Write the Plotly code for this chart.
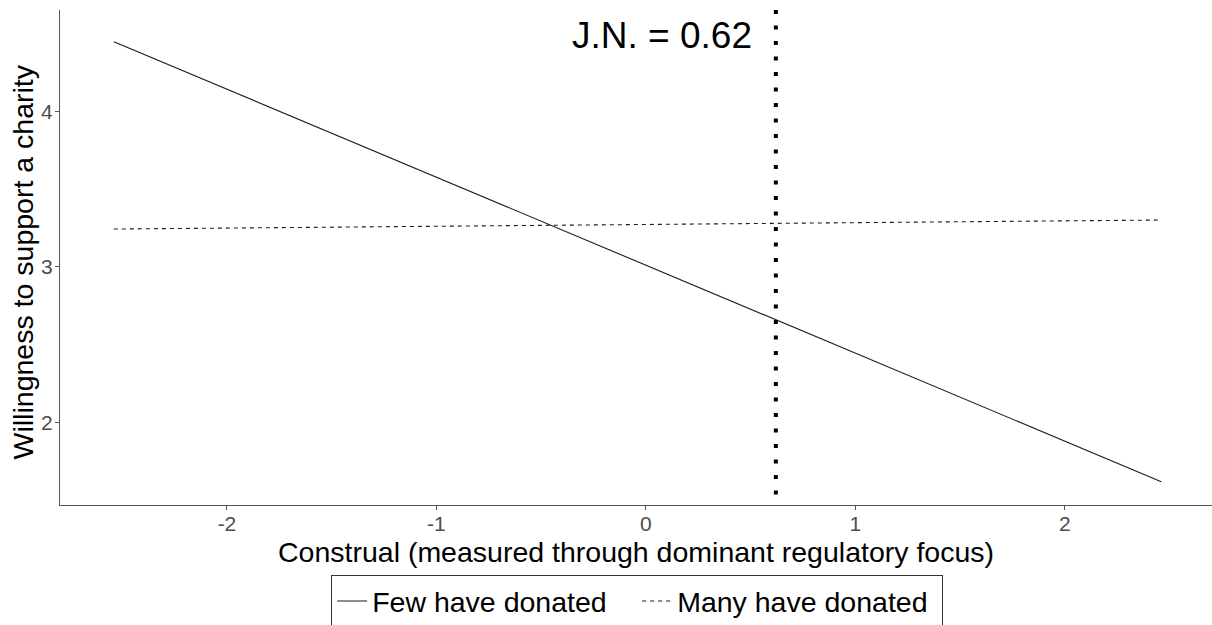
import plotly.graph_objects as go

# Data
x_vals = [-2.54, 2.46]
few_vals = [4.449, 1.619]
many_vals = [3.244, 3.302]
series_names = ["Few have donated", "Many have donated"]
jn_value = 0.62
jn_label = "J.N. = 0.62"
x_ticks = [-2, -1, 0, 1, 2]
x_tick_labels = ["-2", "-1", "0", "1", "2"]
y_ticks = [2, 3, 4]
y_tick_labels = ["2", "3", "4"]
x_title = "Construal (measured through dominant regulatory focus)"
y_title = "Willingness to support a charity"

FONT = "Liberation Sans, Arial, sans-serif"

fig = go.Figure()
fig.add_trace(go.Scatter(
    x=x_vals, y=few_vals, mode="lines", name=series_names[0],
    line=dict(color="#1a1a1a", width=1.1, dash="solid"),
))
fig.add_trace(go.Scatter(
    x=x_vals, y=many_vals, mode="lines", name=series_names[1],
    line=dict(color="#1a1a1a", width=1.1, dash="4px,4px"),
))

fig.add_shape(
    type="line", xref="x", yref="paper",
    x0=jn_value, x1=jn_value, y0=1, y1=0,
    line=dict(color="black", width=4, dash="4px,11.5px"),
)

fig.add_annotation(
    x=jn_value, y=4.49, xref="x", yref="y",
    text=jn_label, showarrow=False,
    xanchor="right", yanchor="middle", xshift=-22,
    font=dict(family=FONT, size=37, color="black"),
)

# axis titles placed as annotations beside the axes
fig.add_annotation(
    x=0, y=0.49, xref="paper", yref="paper",
    text=y_title, showarrow=False, textangle=-90,
    xanchor="center", yanchor="middle", xshift=-37,
    font=dict(family=FONT, size=28.5, color="black"),
)
fig.add_annotation(
    x=0.5, y=0, xref="paper", yref="paper",
    text=x_title, showarrow=False,
    xanchor="center", yanchor="middle", yshift=-47,
    font=dict(family=FONT, size=28.5, color="black"),
)

axis_common = dict(
    showline=True, linecolor="#555555", linewidth=1.3,
    ticks="outside", tickcolor="#555555", ticklen=4, tickwidth=1,
    showgrid=False, zeroline=False, mirror=False,
    tickfont=dict(family=FONT, size=21, color="#4d4d4d"),
)

fig.update_layout(
    width=1212, height=625,
    margin=dict(l=60, r=0, t=10, b=120, autoexpand=False),
    paper_bgcolor="white", plot_bgcolor="white",
    xaxis=dict(
        range=[-2.797, 2.702], tickvals=x_ticks, ticktext=x_tick_labels,
        ticklabelstandoff=-4,
        **axis_common,
    ),
    yaxis=dict(
        range=[1.469, 4.653], tickvals=y_ticks, ticktext=y_tick_labels,
        ticklabelstandoff=-2,
        **axis_common,
    ),
    legend=dict(
        orientation="h", x=0.501, xanchor="center", y=-0.1414, yanchor="top",
        bordercolor="#333333", borderwidth=1,
        font=dict(family=FONT, size=28.5, color="black"),
        bgcolor="white", entrywidth=260, itemwidth=30,
    ),
    showlegend=True,
)

fig.write_html("out.html")
